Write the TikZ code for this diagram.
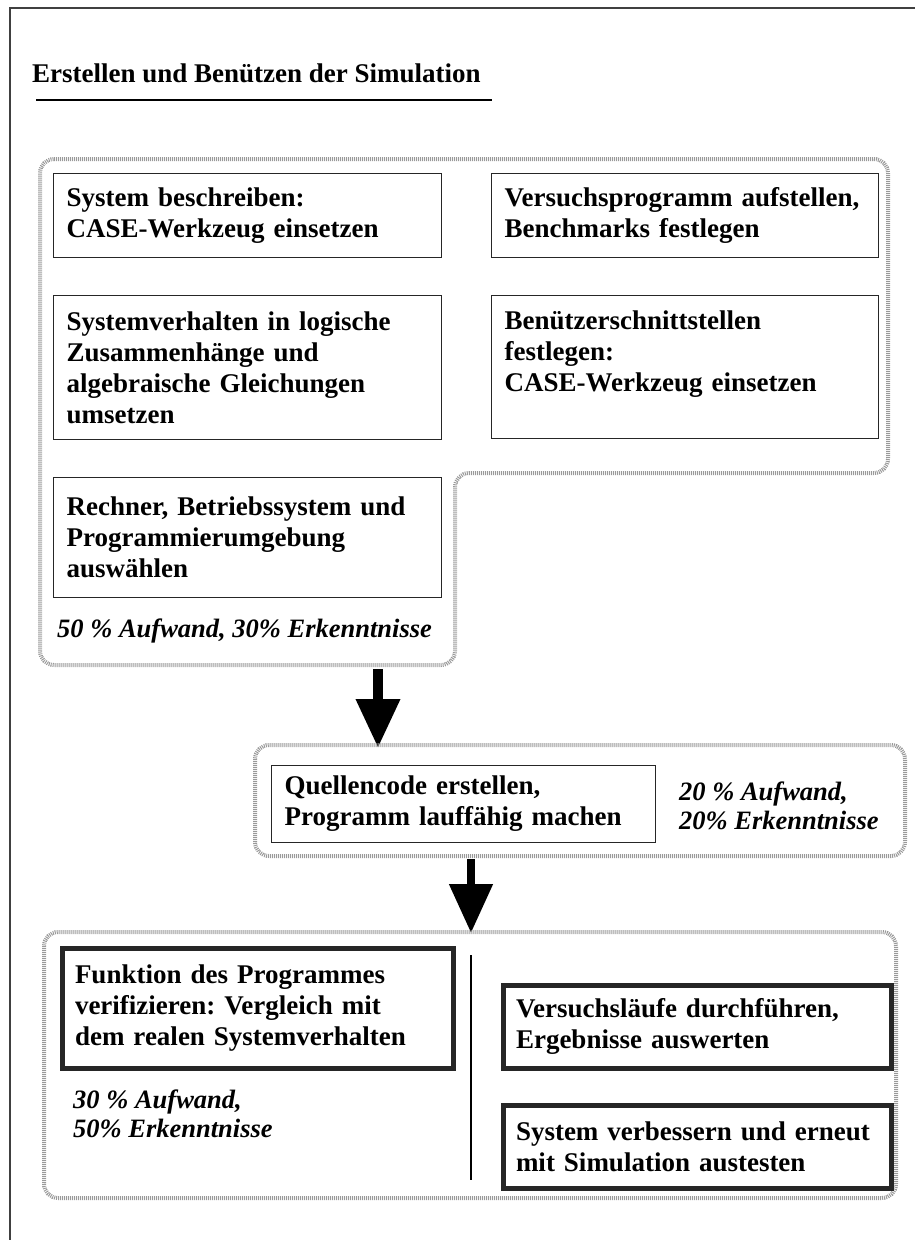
\documentclass[tikz,border=0pt]{standalone}
\usepackage{fontspec}
\setmainfont{Liberation Serif}
\frenchspacing
\usetikzlibrary{arrows.meta}

\tikzset{
  txt/.style={font=\bfseries\fontsize{27}{31}\selectfont},
  thinbox/.style={txt,draw=black!85,line width=1.2pt,anchor=north west,align=left,inner xsep=13pt,inner ysep=0pt},
  thickbox/.style={thinbox,line width=5pt},
  grp/.style={draw=black!40,line width=4pt,dash pattern=on 1pt off 1pt,rounded corners=14pt},
  share/.style={font=\bfseries\itshape\fontsize{26.5}{28.5}\selectfont,align=left,inner sep=0pt},
  bigarrow/.style={line width=#1,-{Triangle[width=42pt,length=49pt]}},
}

\begin{document}
\begin{tikzpicture}[x=1pt,y=-1pt,line cap=butt,line join=miter]
  \useasboundingbox (0,0) rectangle (915,1240);
  % page frame and title
  \draw[line width=1.5pt,black!75] (10,1240) -- (10,8) -- (915,8);
  \node[anchor=base west,inner sep=0pt,txt] (title) at (32,82) {Erstellen und Benützen der Simulation};
  \draw[line width=2pt] (36,100) -- (492,100);

  % first phase
  \draw[grp] (40,159) -- (888,159) -- (888,473) -- (455,473) -- (455,665) -- (40,665) -- cycle;
  \node[thinbox,text width=362pt,minimum height=84pt] (describe) at (53,173)
    {System beschreiben:\\CASE-Werkzeug einsetzen};
  \node[thinbox,text width=361pt,minimum height=84pt] (plan) at (491,173)
    {Versuchsprogramm aufstellen,\\Benchmarks festlegen};
  \node[thinbox,text width=362pt,minimum height=144pt] (logic) at (53,295)
    {Systemverhalten in logische\\Zusammenhänge und\\algebraische Gleichungen\\umsetzen};
  \node[thinbox,text width=361pt,minimum height=143pt] (iface) at (491,295)
    {Benützerschnittstellen\\festlegen:\\CASE-Werkzeug einsetzen\\\mbox{}};
  \node[thinbox,text width=362pt,minimum height=120pt] (platform) at (53,477)
    {Rechner, Betriebssystem und\\Programmierumgebung\\auswählen};
  \node[share,anchor=base west] (share1) at (57,637) {50 \% Aufwand, 30\% Erkenntnisse};

  \coordinate (out1) at (378,669);
  \coordinate (in2) at (378,748);
  \draw[bigarrow=10pt] (out1) -- (in2);

  % second phase
  \draw[grp] (255,745) rectangle (905,856);
  \node[thinbox,text width=358pt,minimum height=77pt] (code) at (271,765)
    {Quellencode erstellen,\\Programm lauffähig machen};
  \node[share,anchor=west] (share2) at (679,806) {20 \% Aufwand,\\20\% Erkenntnisse};

  \coordinate (out2) at (471,859);
  \coordinate (in3) at (471,933);
  \draw[bigarrow=8pt] (out2) -- (in3);

  % third phase
  \draw[grp] (44,932) rectangle (896,1198);
  \node[thickbox,text width=365pt,minimum height=120pt] (verify) at (59.5,945.5)
    {Funktion des Programmes\\verifizieren: Vergleich mit\\dem realen Systemverhalten};
  \node[share,anchor=west] (share3) at (73,1114) {30 \% Aufwand,\\50\% Erkenntnisse};
  \draw[line width=1.5pt] (471,955) -- (471,1180);
  \node[thickbox,text width=362pt,minimum height=83pt] (runs) at (500.5,982.5)
    {Versuchsläufe durchführen,\\Ergebnisse auswerten};
  \node[thickbox,text width=362pt,minimum height=83pt] (improve) at (500.5,1102.5)
    {System verbessern und erneut\\mit Simulation austesten};
\end{tikzpicture}
\end{document}
